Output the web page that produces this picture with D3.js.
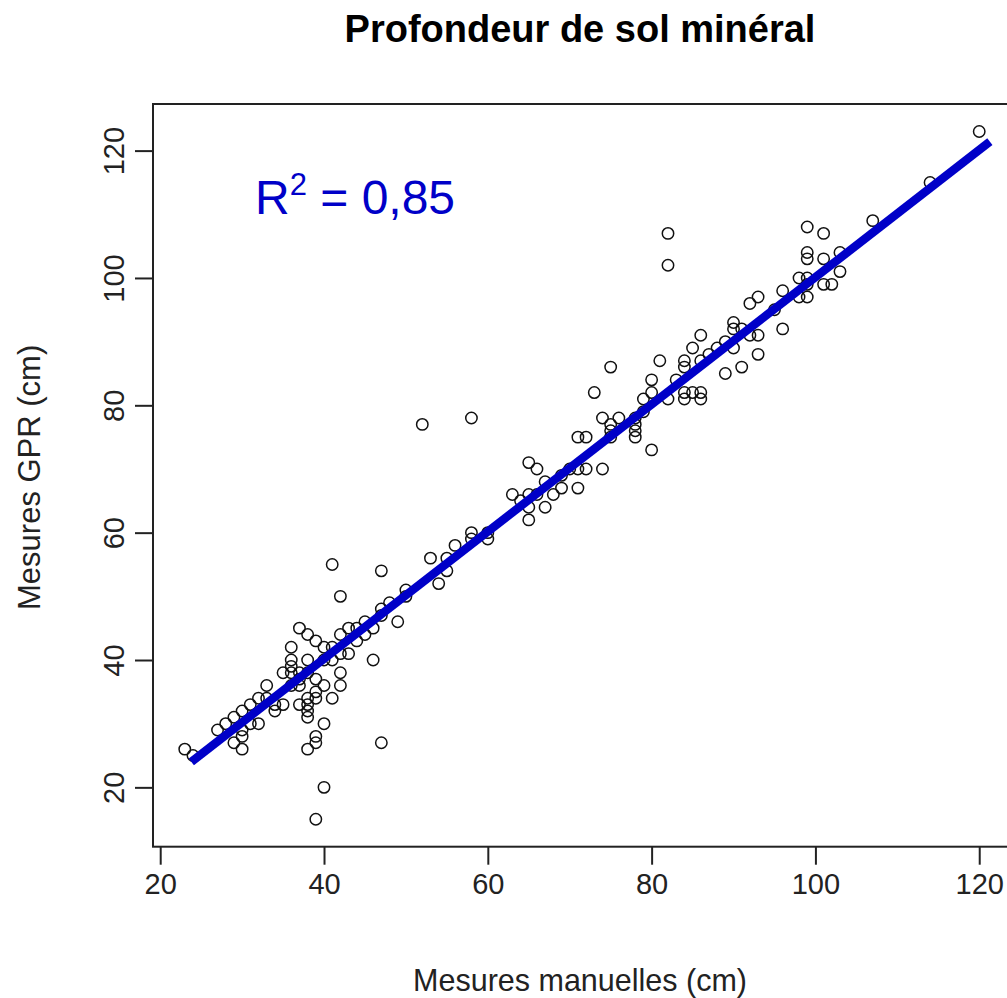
<!DOCTYPE html>
<html>
<head>
<meta charset="utf-8">
<script src="https://cdn.jsdelivr.net/npm/d3@7"></script>
<style>
  body { margin: 0; background: #fff; }
  text { font-family: "Liberation Sans", Arial, sans-serif; }
</style>
</head>
<body>
<div id="chart"></div>
<script>
// Manual measurements (x) vs GPR measurements (y), cm
const MANUAL = [
  23, 24, 27, 28, 29, 29, 30, 30, 30, 30, 31, 31, 32, 32, 33, 33, 34, 34, 35, 35,
  36, 36, 36, 36, 36, 37, 37, 37, 37, 37, 38, 38, 38, 38, 38, 38, 38, 38, 39, 39,
  39, 39, 39, 39, 39, 40, 40, 40, 40, 40, 41, 41, 41, 41, 42, 42, 42, 42, 42, 43,
  43, 44, 44, 45, 45, 46, 46, 47, 47, 47, 47, 48, 49, 50, 50,
  52, 58, 53, 54, 55, 55, 56, 58, 58, 60, 60, 63, 64, 65, 66, 65, 65, 65, 66, 67,
  67, 68, 69, 69, 70, 71, 71, 72, 74, 71, 72, 73, 74, 75, 75, 75, 75, 76, 78, 78,
  78, 78, 79, 79, 80, 80, 80, 81, 82, 82, 82, 83, 84, 84, 84, 84, 85, 85, 86, 86,
  86, 86, 87, 88, 89, 89, 90, 90, 90, 91, 91, 92, 92, 93, 93, 93, 95, 96, 96, 98,
  98, 99, 99, 99, 99, 99, 99, 101, 101, 101, 102, 103, 103, 107, 114, 120
];
const GPR = [
  26, 25, 29, 30, 31, 27, 32, 29, 28, 26, 33, 30, 34, 30, 36, 34, 33, 32, 38, 33,
  42, 39, 38, 36, 40, 45, 38, 36, 33, 37, 44, 40, 34, 33, 32, 31, 26, 38, 43, 37,
  35, 34, 28, 27, 15, 42, 36, 30, 20, 40, 55, 40, 34, 42, 50, 44, 41, 38, 36, 45,
  41, 45, 43, 46, 44, 45, 40, 54, 48, 47, 27, 49, 46, 51, 50,
  77, 78, 56, 52, 54, 56, 58, 60, 59, 60, 59, 66, 65, 71, 70, 66, 64, 62, 66, 68,
  64, 66, 67, 69, 70, 67, 70, 70, 70, 75, 75, 82, 78, 77, 76, 75, 86, 78, 78, 76,
  75, 77, 79, 81, 82, 84, 73, 87, 107, 102, 81, 84, 87, 86, 82, 81, 82, 89, 91, 87,
  82, 81, 88, 89, 90, 85, 93, 92, 89, 92, 86, 91, 96, 97, 91, 88, 95, 98, 92, 100,
  97, 108, 104, 103, 100, 97, 99, 107, 103, 99, 99, 104, 101, 109, 115, 123
];

// Regression line end points (manual cm -> fitted GPR cm)
const FIT_X = [23.8, 121.3];
const FIT_Y = [24.0, 121.4];

const X_TICKS = [20, 40, 60, 80, 100, 120];
const Y_TICKS = [20, 40, 60, 80, 100, 120];

const TITLE = "Profondeur de sol minéral";
const X_LABEL = "Mesures manuelles (cm)";
const Y_LABEL = "Mesures GPR (cm)";

const W = 1007, H = 998;
const box = { left: 153, top: 104, right: 1011, bottom: 846.7 };

const svg = d3.select("#chart").append("svg")
  .attr("width", W).attr("height", H);

// R style: data range padded by 4% on each side
const xPad = (d3.max(MANUAL) - d3.min(MANUAL)) * 0.04;
const yPad = (d3.max(GPR) - d3.min(GPR)) * 0.04;
const x = d3.scaleLinear()
  .domain([d3.min(MANUAL) - xPad, d3.max(MANUAL) + xPad])
  .range([box.left, box.right]);
const y = d3.scaleLinear()
  .domain([d3.min(GPR) - yPad, d3.max(GPR) + yPad])
  .range([box.bottom, box.top]);

// frame
svg.append("rect")
  .attr("x", box.left).attr("y", box.top)
  .attr("width", box.right - box.left).attr("height", box.bottom - box.top)
  .attr("fill", "none").attr("stroke", "#222").attr("stroke-width", 2);

// x axis
const xAxis = svg.append("g")
  .attr("transform", `translate(0,${box.bottom})`)
  .call(d3.axisBottom(x).tickValues(X_TICKS).tickSize(18).tickPadding(9));
xAxis.select(".domain").remove();
xAxis.selectAll(".tick line").attr("stroke", "#222").attr("stroke-width", 2);
xAxis.selectAll(".tick text")
  .attr("font-size", 29).attr("fill", "#222")
  .attr("font-family", "Liberation Sans, Arial, sans-serif");

// y axis, labels turned like R's las=0
const yAxis = svg.append("g")
  .attr("transform", `translate(${box.left},0)`)
  .call(d3.axisLeft(y).tickValues(Y_TICKS).tickSize(18));
yAxis.select(".domain").remove();
yAxis.selectAll(".tick line").attr("stroke", "#222").attr("stroke-width", 2);
yAxis.selectAll(".tick text")
  .attr("font-size", 29).attr("fill", "#222")
  .attr("font-family", "Liberation Sans, Arial, sans-serif")
  .attr("x", null).attr("dy", null)
  .attr("text-anchor", "middle")
  .attr("transform", "translate(-29,0) rotate(-90)");

// points
svg.append("g").selectAll("circle")
  .data(MANUAL.map((m, i) => ({ m, g: GPR[i] })))
  .join("circle")
  .attr("cx", d => x(d.m))
  .attr("cy", d => y(d.g))
  .attr("r", 5.7)
  .attr("fill", "none")
  .attr("stroke", "#111")
  .attr("stroke-width", 1.5);

// fitted line
svg.append("line")
  .attr("x1", x(FIT_X[0])).attr("y1", y(FIT_Y[0]))
  .attr("x2", x(FIT_X[1])).attr("y2", y(FIT_Y[1]))
  .attr("stroke", "#0000c8").attr("stroke-width", 8.5);

// R² annotation
const r2 = svg.append("text")
  .attr("x", 255).attr("y", 214)
  .attr("font-size", 48).attr("fill", "#0000c8");
r2.append("tspan").text("R");
r2.append("tspan").attr("font-size", 31).attr("dy", -19).text("2");
r2.append("tspan").attr("dy", 19).text(" = 0,85");

// title and axis titles
svg.append("text")
  .attr("x", (box.left + box.right) / 2 - 2).attr("y", 42)
  .attr("text-anchor", "middle")
  .attr("font-size", 38).attr("font-weight", "bold").attr("fill", "#000")
  .text(TITLE);

svg.append("text")
  .attr("x", (box.left + box.right) / 2 - 2).attr("y", 991)
  .attr("text-anchor", "middle")
  .attr("font-size", 30.5).attr("fill", "#222")
  .text(X_LABEL);

svg.append("text")
  .attr("transform", `translate(40,${(box.top + box.bottom) / 2 + 2}) rotate(-90)`)
  .attr("text-anchor", "middle")
  .attr("font-size", 31).attr("fill", "#222")
  .text(Y_LABEL);
</script>
</body>
</html>
